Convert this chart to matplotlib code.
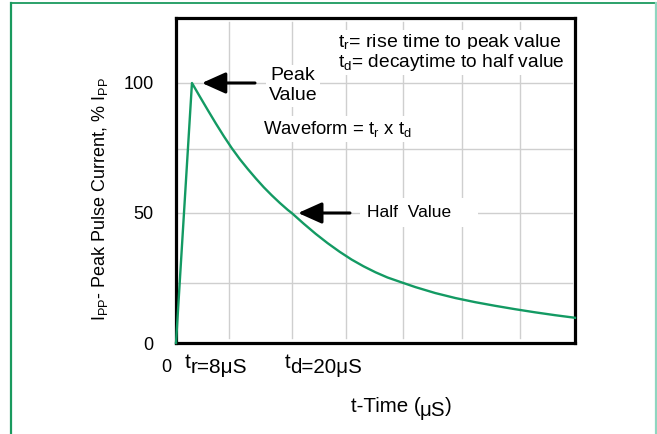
import matplotlib
matplotlib.use("Agg")
import matplotlib.pyplot as plt
from matplotlib.lines import Line2D
from matplotlib.transforms import offset_copy

plt.rcParams['font.family'] = ['Liberation Sans', 'DejaVu Sans']
plt.rcParams['mathtext.fontset'] = 'custom'
plt.rcParams['mathtext.rm'] = 'Liberation Sans'
plt.rcParams['mathtext.it'] = 'Liberation Sans'
plt.rcParams['mathtext.bf'] = 'Liberation Sans:bold'

# ---- data (schematic time axis, 0..100 arbitrary units) ----
time_units = [0, 4, 6, 8, 10, 12, 14, 16, 18, 20, 22, 24, 26, 28, 29, 32, 35,
              38, 41, 44, 47, 50, 53, 56, 60, 65, 70, 75, 80, 85, 90, 95, 100]
current_pct = [0, 100, 94.7, 89.5, 84.4, 79.5, 74.9, 70.7, 66.9, 63.3, 59.9,
               56.8, 53.9, 51.2, 50.0, 45.9, 42.0, 38.4, 35.1, 32.1, 29.5,
               27.2, 25.2, 23.6, 21.5, 19.2, 17.3, 15.7, 14.3, 13.0, 11.8,
               10.7, 9.7]
y_ticks = [0, 50, 100]
y_tick_labels = ["0", "50", "100"]
x_grid = [13.3, 29.1, 42.6, 56.9, 71.7, 86.2]
y_grid = [23, 74.6, 50, 100]

GREEN = '#139a63'

fig = plt.figure(figsize=(6.57, 4.34), dpi=100)
fig.patch.set_facecolor('white')
renderer = fig.canvas.get_renderer()

# green outer border
fig.add_artist(Line2D([11/657, 11/657], [0, 1 - 3/434], transform=fig.transFigure,
                      color='#1a9a5e', lw=1.6))
fig.add_artist(Line2D([11/657, 656/657], [1 - 3/434, 1 - 3/434], transform=fig.transFigure,
                      color='#1a9a5e', lw=1.3))
fig.add_artist(Line2D([656/657, 656/657], [0, 1 - 3/434], transform=fig.transFigure,
                      color='#8fd6c0', lw=1.6))

ax = fig.add_axes([176/657, 1 - 343/434, 399/657, 325/434])
ax.set_xlim(0, 100)
ax.set_ylim(0, 125)

for gx in x_grid:
    ax.axvline(gx, ymin=2/125, ymax=123.5/125, color='#cfcfcf', lw=1.0, zorder=0)
for gy in y_grid:
    ax.axhline(gy, xmax=0.993, color='#cfcfcf', lw=1.0, zorder=0)

ax.plot(time_units, current_pct, color=GREEN, lw=1.7, zorder=3, clip_on=False)

for s in ax.spines.values():
    s.set_linewidth(2.3)
    s.set_color('black')

ax.set_xticks([])
ax.set_yticks(y_ticks)
ax.set_yticklabels(y_tick_labels, fontsize=13)
ax.tick_params(axis='y', length=0, pad=16)


def chain(x, y, pieces, fontsize, ha='left'):
    """Place text pieces one after another; pieces = [(text, dy_px), ...]."""
    texts = []
    widths = []
    for s, dy in pieces:
        t = ax.text(x, y, s, fontsize=fontsize, ha='left', va='center', clip_on=False)
        widths.append(t.get_window_extent(renderer).width)
        texts.append((t, dy))
    total = sum(widths)
    start = 0.0 if ha == 'left' else -total / 2.0
    off = start
    for (t, dy), w in zip(texts, widths):
        t.set_transform(offset_copy(ax.transData, fig=fig, x=off, y=dy, units='dots'))
        off += w - 0.5
    return texts


# x-axis labels
ax.text(-2.5, -9.3, "0", fontsize=13, ha='center', va='center', clip_on=False)
chain(2.2, -9.3, [("t", 5), ("r=8μS", 0)], 15)
chain(27.3, -9.3, [("t", 5), ("d=20μS", 0)], 14.8)
chain(56.6, -24.6, [("t-Time (", 0), ("μS", -4), (")", 0)], 14.8, ha='center')

ax.text(-19.0, 55.5, r"I$_{\mathregular{PP}}$- Peak Pulse Current, % I$_{\mathregular{PP}}$",
        fontsize=13, rotation=90, ha='center', va='center', clip_on=False)

# annotations
wbox = dict(facecolor='white', edgecolor='none', pad=2)
ax.text(29.3, 99.0, "Peak\nValue", fontsize=14, ha='center', va='center',
        linespacing=1.2, bbox=wbox, zorder=2)
ax.text(21.8, 82.3, r"Waveform = t$_\mathregular{r}$ x t$_\mathregular{d}$", fontsize=13.3,
        ha='left', va='center', bbox=wbox, zorder=2)
ax.text(47.9, 50.3, "Half  Value    ", fontsize=12.5, ha='left', va='center',
        bbox=dict(facecolor='white', edgecolor='none', pad=5), zorder=2)
ax.text(40.6, 115.4, r"t$_\mathregular{r}$= rise time to peak value", fontsize=14,
        ha='left', va='center', bbox=wbox, zorder=2)
ax.text(40.6, 108.0, r"t$_\mathregular{d}$= decaytime to half value", fontsize=13.8,
        ha='left', va='center', bbox=wbox, zorder=2)

arrow_style = '-|>,head_length=1.45,head_width=0.65'
ax.annotate('', xy=(6.5, 100), xytext=(19.8, 100),
            arrowprops=dict(arrowstyle=arrow_style, color='black', lw=2.2,
                            mutation_scale=10, shrinkA=0, shrinkB=0), zorder=4)
ax.annotate('', xy=(30.6, 50), xytext=(43.6, 50),
            arrowprops=dict(arrowstyle=arrow_style, color='black', lw=2.2,
                            mutation_scale=10, shrinkA=0, shrinkB=0), zorder=4)

fig.savefig("out.png", dpi=100, facecolor='white')
